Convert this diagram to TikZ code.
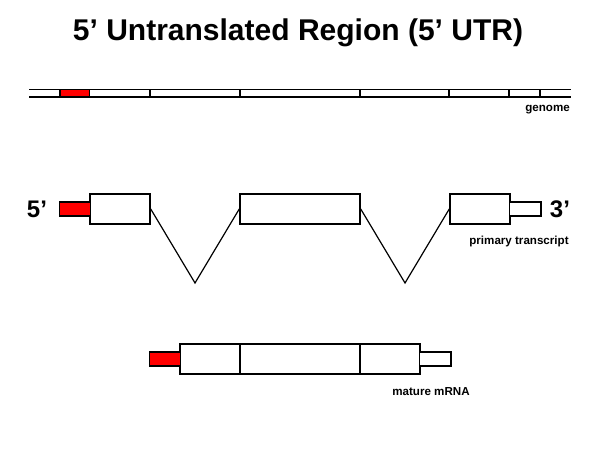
\documentclass[tikz,border=0pt]{standalone}
\usepackage{fontspec}
\setmainfont{Liberation Sans}
\usetikzlibrary{positioning}

\begin{document}
\begin{tikzpicture}[x=1pt,y=-1pt,
  exon/.style={draw,fill=white,line width=1.5pt,inner sep=0,minimum height=30pt},
  lbl/.style={font=\bfseries\fontsize{11.6}{14}\selectfont,inner sep=0},
  prime/.style={font=\bfseries\fontsize{24}{28}\selectfont,inner sep=0}]
  \useasboundingbox (0,0) rectangle (600,450);
  \node[font=\bfseries\fontsize{30}{36}\selectfont] (title) at (298,33) {5’ Untranslated Region (5’ UTR)};
  % genome
  \fill[red] (60,89.5) rectangle (89.5,97);
  \draw[line width=1.8pt] (29,89.5) -- (571,89.5) (29,97) -- (571,97);
  \foreach \x in {60,89.5,150,240,360,449,509,540}{
    \draw[line width=1.5pt] (\x,89.5) -- (\x,97);
  }
  \node[lbl,anchor=east] (genome) at (570,110) {genome};
  % primary transcript
  \node[exon,minimum width=60pt] (pA) at (120,209) {};
  \node[exon,minimum width=120pt] (pB) at (300,209) {};
  \node[exon,minimum width=60pt] (pC) at (480,209) {};
  \coordinate (iA) at (195,283);
  \coordinate (iB) at (405,283);
  \draw[line width=1.2pt] (pA.east) -- (iA) -- (pB.west);
  \draw[line width=1.2pt] (pB.east) -- (iB) -- (pC.west);
  \draw[line width=1.5pt,fill=red] ([yshift=7pt]pA.west) -- ++(-30,0) -- ++(0,14) -- ([yshift=-7pt]pA.west);
  \draw[red,line width=2.2pt] ([yshift=6.2pt]pA.west) -- ([yshift=-6.2pt]pA.west);
  \draw[line width=1.5pt,fill=white] ([yshift=7pt]pC.east) -- ++(30,0) -- ++(0,14) -- ([yshift=-7pt]pC.east);
  \draw[white,line width=2.2pt] ([yshift=6.2pt]pC.east) -- ([yshift=-6.2pt]pC.east);
  \node[prime] (five) at (37,209) {5’};
  \node[prime] (three) at (560,209) {3’};
  \node[lbl] (primary) at (519,241) {primary transcript};
  % mature mRNA
  \node[exon,minimum width=60pt] (mA) at (210,359) {};
  \node[exon,minimum width=120pt,right=-1.5pt of mA] (mB) {};
  \node[exon,minimum width=60pt,right=-1.5pt of mB] (mC) {};
  \draw[line width=1.5pt,fill=red] ([yshift=7pt]mA.west) -- ++(-30,0) -- ++(0,14) -- ([yshift=-7pt]mA.west);
  \draw[red,line width=2.2pt] ([yshift=6.2pt]mA.west) -- ([yshift=-6.2pt]mA.west);
  \draw[line width=1.5pt,fill=white] ([yshift=7pt]mC.east) -- ++(30,0) -- ++(0,14) -- ([yshift=-7pt]mC.east);
  \draw[white,line width=2.2pt] ([yshift=6.2pt]mC.east) -- ([yshift=-6.2pt]mC.east);
  \node[lbl] (mature) at (431,392) {mature mRNA};
\end{tikzpicture}
\end{document}
